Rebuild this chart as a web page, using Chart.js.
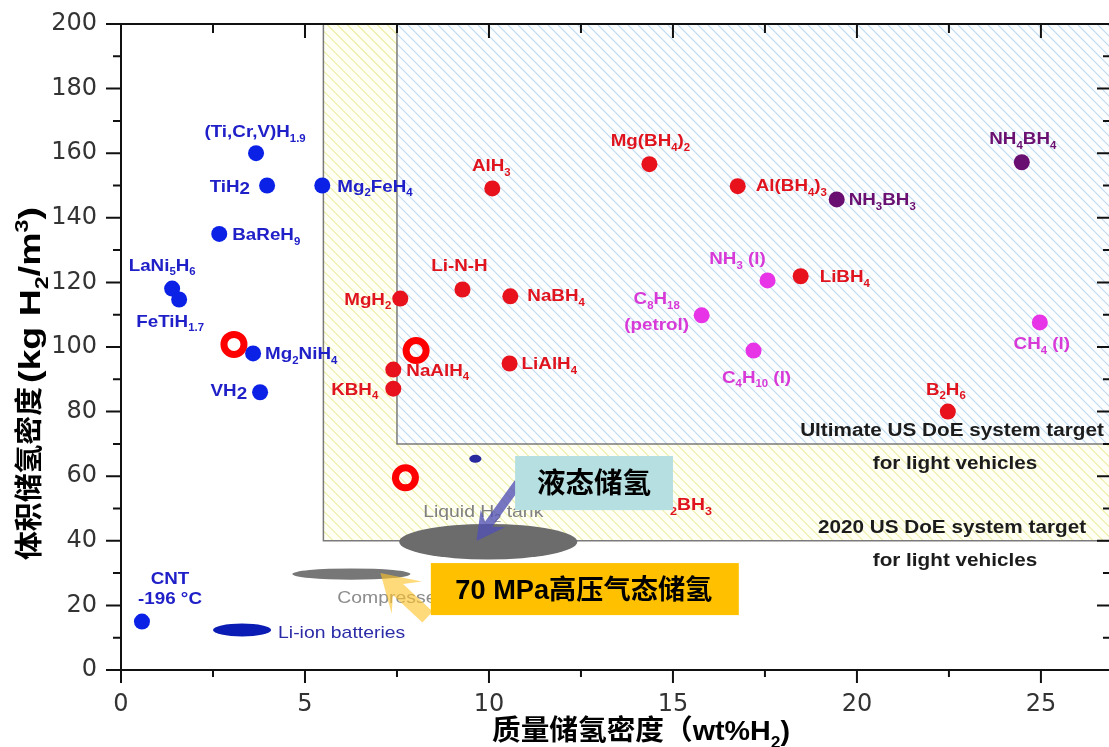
<!DOCTYPE html>
<html>
<head>
<meta charset="utf-8">
<title>储氢材料密度</title>
<script src="https://cdn.jsdelivr.net/npm/chart.js@4.4.1/dist/chart.umd.min.js"></script>
<style>
  html, body { margin: 0; padding: 0; background: #fff; overflow: hidden; }
  #wrap { width: 1109px; height: 747px; }
  canvas { display: block; }
</style>
</head>
<body>
<div id="wrap"><canvas id="chart" width="1109" height="747"></canvas></div>
<script>
// ---- Materials: gravimetric density (wt% H2) and volumetric density (kg H2/m3) ----
// Label markup: _x or _{xy} = subscript, ^x = superscript, ~x = lowered digit, \n = new line
const hydrideNames = ['(Ti,Cr,V)H_{1.9}', 'TiH~2', 'Mg_2FeH_4', 'BaReH_9', 'LaNi_5H_6', 'FeTiH_{1.7}', 'Mg_2NiH_4', 'VH~2', 'CNT\n-196 °C'];
const hydrideWt    = [3.67, 3.97, 5.47, 2.67, 1.39, 1.58, 3.59, 3.78, 0.57];
const hydrideVol   = [160, 150, 150, 135, 118.1, 114.7, 98, 86, 15];

const complexNames = ['AlH_3', 'Mg(BH_4)_2', 'Al(BH_4)_3', 'Li-N-H', 'MgH_2', 'NaBH_4', 'LiBH_4', 'NaAlH_4', 'KBH_4', 'LiAlH_4', 'B_2H_6'];
const complexWt    = [10.09, 14.36, 16.76, 9.28, 7.59, 10.58, 18.47, 7.40, 7.40, 10.56, 22.47];
const complexVol   = [149.1, 156.6, 149.8, 117.8, 115, 115.7, 121.9, 93, 87.1, 94.9, 80];

const boraneNames  = ['NH_3BH_3', 'NH_4BH_4'];
const boraneWt     = [19.45, 24.48];
const boraneVol    = [145.7, 157.2];

const fuelNames    = ['NH_3 (l)', 'C_8H_{18}\n(petrol)', 'C_4H_{10} (l)', 'CH_4 (l)'];
const fuelWt       = [17.57, 15.78, 17.19, 24.97];
const fuelVol      = [120.6, 109.8, 98.9, 107.6];

// highlighted materials (open red rings)
const ringWt  = [3.07, 8.02, 7.73];
const ringVol = [100.8, 98.9, 59.5];

// storage systems shown as ellipses: centre and full extent in axis units
const systemNames = ['Liquid H_2 tank', 'Compressed H_2 tank', 'Li-ion batteries', ''];
const systemWt    = [9.98, 6.26, 3.29, 9.63];
const systemVol   = [39.7, 29.7, 12.4, 65.4];
const systemSpanWt  = [4.84, 3.21, 1.58, 0.33];
const systemSpanVol = [11.0, 3.5, 4.0, 2.5];

// US DoE system targets for light vehicles (lower-left corner of each zone)
const targetNames = ['Ultimate US DoE system target', '2020 US DoE system target'];
const targetWt    = [7.5, 5.5];
const targetVol   = [70, 40];

const xTicks = [0, 5, 10, 15, 20, 25];
const yTicks = [0, 20, 40, 60, 80, 100, 120, 140, 160, 180, 200];

// ---- label placement (pixel offsets from the marker; a = anchor: l / r / c) ----
const labelPlace = {
  '(Ti,Cr,V)H_{1.9}': {dx: -1, dy: -16, a: 'c'},
  'TiH~2': {dx: -17, dy: 6, a: 'r'},
  'Mg_2FeH_4': {dx: 15, dy: 6, a: 'l'},
  'BaReH_9': {dx: 13, dy: 6, a: 'l'},
  'LaNi_5H_6': {dx: -10, dy: -18, a: 'c'},
  'FeTiH_{1.7}': {dx: -9, dy: 27, a: 'c'},
  'Mg_2NiH_4': {dx: 12, dy: 6, a: 'l'},
  'VH~2': {dx: -13, dy: 4, a: 'r'},
  'CNT\n-196 °C': {dx: 28, dy: -38, a: 'c', lh: 20},
  'AlH_3': {dx: -1, dy: -17, a: 'c'},
  'Mg(BH_4)_2': {dx: 1, dy: -18, a: 'c'},
  'Al(BH_4)_3': {dx: 18, dy: 5, a: 'l'},
  'Li-N-H': {dx: -3, dy: -19, a: 'c'},
  'MgH_2': {dx: -9, dy: 6, a: 'r'},
  'NaBH_4': {dx: 17, dy: 5, a: 'l'},
  'LiBH_4': {dx: 19, dy: 6, a: 'l'},
  'NaAlH_4': {dx: 13, dy: 6, a: 'l'},
  'KBH_4': {dx: -15, dy: 6, a: 'r'},
  'LiAlH_4': {dx: 12, dy: 6, a: 'l'},
  'B_2H_6': {dx: -2, dy: -17, a: 'c'},
  'NH_3BH_3': {dx: 12, dy: 6, a: 'l'},
  'NH_4BH_4': {dx: 1, dy: -18, a: 'c'},
  'NH_3 (l)': {dx: -30, dy: -16, a: 'c'},
  'C_8H_{18}\n(petrol)': {dx: -45, dy: -11, a: 'c', lh: 26},
  'C_4H_{10} (l)': {dx: 3, dy: 32, a: 'c'},
  'CH_4 (l)': {dx: 2, dy: 27, a: 'c'}
};
const systemPlace = [
  {dx: -65, dy: -25, color: '#808080'},
  {dx: -14, dy: 29, color: '#8c8c8c'},
  {dx: 36, dy: 8, color: '#2b2ba8'},
  null
];
const systemFill = ['#6c6c6c', '#777777', '#0b1cb4', '#2a2aa0'];

const COL = {
  hydride: '#0b22e6', hydrideText: '#2020c8',
  complex: '#e8121c', complexText: '#e0141e',
  borane: '#6a0f72', boraneText: '#6a1070',
  fuel: '#e634e6', fuelText: '#d83ad8'
};
const FAMILY = '"Liberation Sans", "Noto Sans CJK SC", sans-serif';
const STRETCH = 1.14;   // labels are set slightly wide

// ---- rich text helpers (sub/superscripts) ----
function parseRich(s) {
  const segs = []; let buf = ''; let i = 0;
  const push = (t, m) => { if (t) segs.push({t, m}); };
  while (i < s.length) {
    const c = s[i];
    if (c === '_' || c === '^' || c === '~') {
      push(buf, 'n'); buf = '';
      let t;
      if (s[i + 1] === '{') { const j = s.indexOf('}', i + 2); t = s.slice(i + 2, j); i = j + 1; }
      else { t = s[i + 1]; i += 2; }
      push(t, c === '_' ? 'sub' : c === '^' ? 'sup' : 'low');
    } else { buf += c; i++; }
  }
  push(buf, 'n');
  return segs;
}
function segFont(seg, size, weight, family) {
  const sz = (seg.m === 'sub' || seg.m === 'sup') ? Math.round(size * 0.62) : size;
  return `${weight} ${sz}px ${family}`;
}
function segShift(seg, size) {
  if (seg.m === 'sub') return size * 0.28;
  if (seg.m === 'sup') return -size * 0.42;
  if (seg.m === 'low') return size * 0.18;
  return 0;
}
function richWidth(ctx, s, size, weight, family) {
  let w = 0;
  for (const seg of parseRich(s)) { ctx.font = segFont(seg, size, weight, family); w += ctx.measureText(seg.t).width; }
  return w;
}
function drawRich(ctx, s, x, y, o) {
  const size = o.size || 16, weight = o.weight || 'bold', family = o.family || FAMILY;
  const w = richWidth(ctx, s, size, weight, family);
  const sx = o.fit ? o.fit / w : (o.sx || 1);
  const tw = w * sx;
  let start = x;
  if (o.align === 'r') start = x - tw; else if (o.align === 'c') start = x - tw / 2;
  ctx.save();
  ctx.fillStyle = o.color || '#000';
  ctx.textBaseline = 'alphabetic';
  ctx.textAlign = 'left';
  ctx.translate(start, y);
  ctx.scale(sx, 1);
  let cx = 0;
  for (const seg of parseRich(s)) {
    ctx.font = segFont(seg, size, weight, family);
    ctx.fillText(seg.t, cx, segShift(seg, size));
    cx += ctx.measureText(seg.t).width;
  }
  ctx.restore();
  return tw;
}

function hatch(ctx, x0, y0, x1, y1, bg, color, gap, lw) {
  ctx.save();
  ctx.beginPath(); ctx.rect(x0, y0, x1 - x0, y1 - y0); ctx.clip();
  ctx.fillStyle = bg; ctx.fillRect(x0, y0, x1 - x0, y1 - y0);
  ctx.strokeStyle = color; ctx.lineWidth = lw;
  ctx.beginPath();
  const h = y1 - y0;
  for (let s = x0 - h - gap; s < x1 + gap; s += gap) { ctx.moveTo(s, y0); ctx.lineTo(s + h, y1); }
  ctx.stroke();
  ctx.restore();
}

function arrow(ctx, tx, ty, hx, hy, shaft, headW, headL, notch, color) {
  const dx = hx - tx, dy = hy - ty, L = Math.hypot(dx, dy);
  const ux = dx / L, uy = dy / L, px = -uy, py = ux;
  const bx = hx - ux * headL, by = hy - uy * headL;
  const nx = bx + ux * notch, ny = by + uy * notch;
  ctx.beginPath();
  ctx.moveTo(tx + px * shaft / 2, ty + py * shaft / 2);
  ctx.lineTo(nx + px * shaft / 2, ny + py * shaft / 2);
  ctx.lineTo(bx + px * headW / 2, by + py * headW / 2);
  ctx.lineTo(hx, hy);
  ctx.lineTo(bx - px * headW / 2, by - py * headW / 2);
  ctx.lineTo(nx - px * shaft / 2, ny - py * shaft / 2);
  ctx.lineTo(tx - px * shaft / 2, ty - py * shaft / 2);
  ctx.closePath();
  ctx.fillStyle = color; ctx.fill();
}

const pts = (xs, ys) => xs.map((v, i) => ({x: v, y: ys[i]}));

// call-outs, in axis units: [x0, x1, yTop, yBottom] boxes, [tailX, tailY, tipX, tipY] arrows
const liquidBox = [10.71, 15.0, 66.25, 49.5];
const gasBox = [8.42, 16.79, 33.1, 17.0];
const liquidArrow = [10.80, 57.9, 9.66, 39.9];
const gasArrow = [8.33, 16.4, 7.05, 30.0];

// ---- background: target zones, storage-system ellipses ----
const zonesPlugin = {
  id: 'zones',
  beforeDatasetsDraw(chart) {
    const {ctx, chartArea: a, scales: {x, y}} = chart;
    const yellowL = x.getPixelForValue(targetWt[1]), yellowB = y.getPixelForValue(targetVol[1]);
    const blueL = x.getPixelForValue(targetWt[0]), blueB = y.getPixelForValue(targetVol[0]);
    hatch(ctx, yellowL, a.top, a.right, yellowB, '#fffff3', '#ececa4', 10, 1.1);
    hatch(ctx, blueL, a.top, a.right, blueB, '#fcfdff', '#bfdaee', 10, 1.1);
    ctx.save();
    ctx.strokeStyle = '#7a7a7a'; ctx.lineWidth = 1.5;
    ctx.beginPath();
    ctx.moveTo(yellowL, a.top); ctx.lineTo(yellowL, yellowB); ctx.lineTo(a.right, yellowB);
    ctx.moveTo(blueL, a.top); ctx.lineTo(blueL, blueB); ctx.lineTo(a.right, blueB);
    ctx.stroke();
    ctx.restore();

    // storage systems
    systemNames.forEach((name, i) => {
      const cx = x.getPixelForValue(systemWt[i]), cy = y.getPixelForValue(systemVol[i]);
      const rx = Math.abs(x.getPixelForValue(systemWt[i] + systemSpanWt[i] / 2) - cx);
      const ry = Math.abs(y.getPixelForValue(systemVol[i] + systemSpanVol[i] / 2) - cy);
      ctx.save();
      ctx.beginPath(); ctx.ellipse(cx, cy, rx, ry, 0, 0, Math.PI * 2);
      ctx.fillStyle = systemFill[i]; ctx.fill();
      ctx.restore();
      const p = systemPlace[i];
      if (p && name) drawRich(ctx, name, cx + p.dx, cy + p.dy, {size: 17, weight: 'normal', color: p.color, align: 'l', sx: STRETCH});
    });

    // borane label partly hidden behind the call-out
    drawRich(ctx, 'NH_2BH_3', x.getPixelForValue(16.06), y.getPixelForValue(49.5), {size: 17, color: COL.complexText, align: 'r', sx: STRETCH});
  }
};

// ---- foreground: labels, axes frame, call-outs, titles ----
const overlayPlugin = {
  id: 'overlay',
  afterDatasetsDraw(chart) {
    const {ctx, chartArea: a, scales: {x, y}} = chart;

    // material labels
    const groups = [
      [hydrideNames, hydrideWt, hydrideVol, COL.hydrideText],
      [complexNames, complexWt, complexVol, COL.complexText],
      [boraneNames, boraneWt, boraneVol, COL.boraneText],
      [fuelNames, fuelWt, fuelVol, COL.fuelText]
    ];
    for (const [names, xs, ys, color] of groups) {
      names.forEach((name, i) => {
        const p = labelPlace[name];
        const px = x.getPixelForValue(xs[i]), py = y.getPixelForValue(ys[i]);
        name.split('\n').forEach((line, k) => {
          drawRich(ctx, line, px + p.dx, py + p.dy + k * (p.lh || 20), {size: 16.5, color, align: p.a, sx: STRETCH});
        });
      });
    }

    // target captions
    const capX = a.right - 157;
    targetNames.forEach((name, i) => {
      const ly = y.getPixelForValue(targetVol[i]);
      drawRich(ctx, name, capX, ly - 8, {size: 18, color: '#1c1c1c', align: 'c', sx: 1.15});
      drawRich(ctx, 'for light vehicles', capX + 3, ly + 25, {size: 18, color: '#1c1c1c', align: 'c', sx: 1.15});
    });

    // axes frame with inward / outward ticks
    ctx.save();
    ctx.strokeStyle = '#111'; ctx.lineWidth = 2;
    ctx.beginPath();
    ctx.moveTo(a.left, a.top); ctx.lineTo(a.left, a.bottom);
    ctx.moveTo(a.left - 1, a.bottom); ctx.lineTo(a.right, a.bottom);
    ctx.moveTo(a.left - 1, a.top); ctx.lineTo(a.right, a.top);
    for (let v = 0; v <= 200; v += 10) {
      const py = y.getPixelForValue(v);
      const major = v % 20 === 0;
      ctx.moveTo(a.left - (major ? 15 : 8), py); ctx.lineTo(a.left, py);
      ctx.moveTo(a.right - (major ? 12 : 6), py); ctx.lineTo(a.right, py);
    }
    for (let v = 0; v <= 26.5; v += 2.5) {
      const px = x.getPixelForValue(v);
      const major = v % 5 === 0;
      ctx.moveTo(px, a.bottom); ctx.lineTo(px, a.bottom + (major ? 13 : 7));
      ctx.moveTo(px, a.top); ctx.lineTo(px, a.top + (major ? 14 : 9));
    }
    ctx.stroke();
    ctx.restore();

    const X = (v) => x.getPixelForValue(v), Y = (v) => y.getPixelForValue(v);
    // call-out arrows
    arrow(ctx, X(liquidArrow[0]), Y(liquidArrow[1]), X(liquidArrow[2]), Y(liquidArrow[3]), 9, 30, 28, 7, 'rgba(80,80,180,0.78)');
    arrow(ctx, X(gasArrow[0]), Y(gasArrow[1]), X(gasArrow[2]), Y(gasArrow[3]), 15, 44, 36, 12, 'rgba(255,196,40,0.62)');

    // call-out boxes
    ctx.save();
    ctx.fillStyle = '#b6dfe1';
    ctx.fillRect(X(liquidBox[0]), Y(liquidBox[2]), X(liquidBox[1]) - X(liquidBox[0]), Y(liquidBox[3]) - Y(liquidBox[2]));
    ctx.fillStyle = '#ffc000';
    ctx.fillRect(X(gasBox[0]), Y(gasBox[2]), X(gasBox[1]) - X(gasBox[0]), Y(gasBox[3]) - Y(gasBox[2]));
    ctx.restore();
    drawRich(ctx, '液态储氢', (X(liquidBox[0]) + X(liquidBox[1])) / 2, (Y(liquidBox[2]) + Y(liquidBox[3])) / 2 + 10, {size: 28, color: '#000', align: 'c', fit: 114});
    drawRich(ctx, '70 MPa高压气态储氢', (X(gasBox[0]) + X(gasBox[1])) / 2 - 1, (Y(gasBox[2]) + Y(gasBox[3])) / 2 + 10, {size: 27, color: '#000', align: 'c', fit: 257});

    // axis titles
    drawRich(ctx, '质量储氢密度（wt%H_2)', 641, 740, {size: 28, color: '#000', align: 'c', fit: 298});
    ctx.save();
    ctx.translate(39, 560);
    ctx.rotate(-Math.PI / 2);
    drawRich(ctx, '体积储氢密度', 0, 0, {size: 28, color: '#000', align: 'l', fit: 173});
    drawRich(ctx, '(kg H_2/m^3)', 177, 1, {size: 29, color: '#000', align: 'l', fit: 176});
    ctx.restore();
  }
};

const chart = new Chart(document.getElementById('chart'), {
  type: 'scatter',
  data: {
    datasets: [
      {label: 'Metal hydrides', data: pts(hydrideWt, hydrideVol), backgroundColor: COL.hydride, pointRadius: 8, borderWidth: 0},
      {label: 'Complex hydrides', data: pts(complexWt, complexVol), backgroundColor: COL.complex, pointRadius: 8, borderWidth: 0},
      {label: 'Ammonia boranes', data: pts(boraneWt, boraneVol), backgroundColor: COL.borane, pointRadius: 8, borderWidth: 0},
      {label: 'Liquid fuels', data: pts(fuelWt, fuelVol), backgroundColor: COL.fuel, pointRadius: 8, borderWidth: 0},
      {label: 'Highlighted', data: pts(ringWt, ringVol), backgroundColor: 'rgba(0,0,0,0)', borderColor: '#ff0000', borderWidth: 7, pointRadius: 10}
    ]
  },
  options: {
    responsive: false,
    animation: false,
    events: [],
    layout: {autoPadding: false, padding: {top: 24, right: 0, left: 0, bottom: 0}},
    plugins: {legend: {display: false}, tooltip: {enabled: false}},
    scales: {
      x: {
        type: 'linear', min: 0, max: 26.85,
        grid: {display: false, drawTicks: true, tickLength: 20}, border: {display: false},
        ticks: {font: {family: 'DejaVu Sans', size: 24}, color: '#333', padding: 0},
        afterBuildTicks: (s) => { s.ticks = xTicks.map(v => ({value: v})); },
        afterFit: (s) => { s.height = 77; s.paddingLeft = 0; s.paddingRight = 0; }
      },
      y: {
        type: 'linear', min: 0, max: 200,
        grid: {display: false, drawTicks: true, tickLength: 24}, border: {display: false},
        ticks: {font: {family: 'DejaVu Sans', size: 24}, color: '#333', padding: 0},
        afterBuildTicks: (s) => { s.ticks = yTicks.map(v => ({value: v})); },
        afterFit: (s) => { s.width = 121; s.paddingTop = 0; s.paddingBottom = 0; }
      }
    }
  },
  plugins: [zonesPlugin, overlayPlugin]
});
</script>
</body>
</html>
